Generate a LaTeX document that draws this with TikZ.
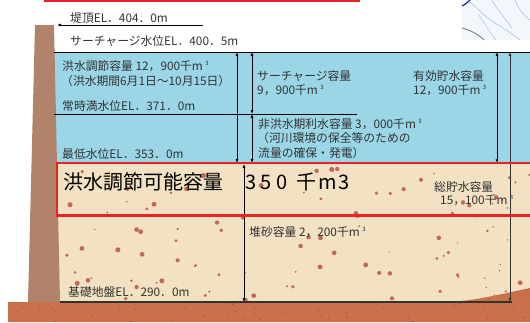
\documentclass[tikz,border=0pt]{standalone}
\usepackage{fontspec}
\setmainfont{Noto Sans CJK JP}
\usetikzlibrary{arrows.meta}
\definecolor{water}{HTML}{9AD6E6}
\definecolor{sand}{HTML}{F2E1C2}
\definecolor{wall}{HTML}{B0836A}
\definecolor{ground}{HTML}{C8714A}
\definecolor{pebble}{HTML}{C4665A}
\definecolor{grit}{HTML}{B24A36}
\definecolor{hilite}{HTML}{E82226}
\definecolor{ink}{HTML}{333333}
\definecolor{mapbg}{HTML}{F3F7FB}
\definecolor{mapline}{HTML}{A9C4E2}
\tikzset{
  lbl/.style={anchor=west, inner sep=0pt, text=ink, font=\fontsize{11.8}{13}\selectfont},
  biglbl/.style={anchor=west, inner sep=0pt, text=black, font=\fontsize{20}{22}\selectfont},
  dim/.style={draw=black, line width=0.7pt, {Latex[length=4pt,width=3pt]}-{Latex[length=4pt,width=3pt]}},
  lvl/.style={draw=black, line width=0.8pt},
  frame/.style={draw=hilite, line width=2.6pt}
}
\newcommand{\cubic}{\hspace{2.5pt}\raisebox{0.8ex}{\fontsize{6}{6}\selectfont 3}}
\begin{document}
\begin{tikzpicture}[x=1pt,y=-1pt]
\useasboundingbox (0,0) rectangle (530,322);
\fill[white] (0,0) rectangle (530,322);

% map fragment in the top-right corner
\fill[mapbg] (462,0) rectangle (530,40);
\draw[mapline, line width=0.6pt] (470,2) .. controls (480,10) and (485,18) .. (500,26) .. controls (506,30) and (512,34) .. (520,40);
\draw[mapline, line width=0.6pt] (492,0) .. controls (496,8) and (500,12) .. (506,20) -- (512,28);
\draw[mapline, line width=0.6pt] (515,0) .. controls (518,8) and (522,14) .. (530,20);
\draw[mapline, line width=0.5pt] (478,14) .. controls (484,22) and (488,30) .. (496,40);
\draw[blue!70!black, line width=1pt] (462,6) .. controls (466,4) and (468,2) .. (470,0);
\draw[gray, line width=0.9pt] (462,28) .. controls (470,30) and (478,34) .. (484,40);

% red frame edge at the top
\draw[hilite, line width=2pt] (44,0.5) -- (360,0.5);

% reservoir water
\fill[water] (54,52) rectangle (530,163);
% sediment layer
\fill[sand] (55,163) -- (530,163) -- (530,288) .. controls (510,292) and (480,300) .. (450,302) -- (60,302) -- cycle;
\begin{scope}
  \clip (55,163) -- (530,163) -- (530,288) .. controls (510,292) and (480,300) .. (450,302) -- (60,302) -- cycle;
  \pgfmathsetseed{17}
  \foreach \i in {1,...,100}{
    \pgfmathsetmacro\px{58+472*rnd}
    \pgfmathsetmacro\py{166+134*rnd}
    \pgfmathsetmacro\pr{0.7+1.9*rnd}
    \fill[pebble] (\px,\py) circle[radius=\pr pt];
  }
\end{scope}
% foundation ground
\fill[ground] (8,302) -- (450,302) .. controls (480,300) and (510,292) .. (530,288) -- (530,322) -- (8,322) -- cycle;
\begin{scope}
  \clip (8,302) -- (450,302) .. controls (480,300) and (510,292) .. (530,288) -- (530,322) -- (8,322) -- cycle;
  \pgfmathsetseed{5}
  \foreach \i in {1,...,70}{
    \pgfmathsetmacro\px{10+520*rnd}
    \pgfmathsetmacro\py{290+32*rnd}
    \fill[grit] (\px,\py) circle[radius=0.7pt];
  }
\end{scope}
% dam body
\fill[wall] (35,25) -- (54,25) -- (60,302) -- (28,302) -- cycle;

% water levels and foundation line
\coordinate (swl-l) at (54,52);   \coordinate (swl-r) at (530,52);
\coordinate (nwl-l) at (54,114);  \coordinate (nwl-r) at (357,114);
\coordinate (base-l) at (60,302); \coordinate (base-r) at (512,302);
\draw[lvl] (swl-l) -- (swl-r);
\draw[lvl] (nwl-l) -- (nwl-r);
\draw[draw=ink, line width=1.1pt] (base-l) -- (base-r);

% crest arrow
\coordinate (crest-a) at (203,25); \coordinate (crest-b) at (57,25);
\draw[black, line width=0.7pt, -{Latex[length=4pt,width=3pt]}] (crest-a) -- (crest-b);

% dimension arrows
\coordinate (a1t) at (237,52);  \coordinate (a1b) at (237,163);
\coordinate (a2t) at (252,52);  \coordinate (a2m) at (252,114); \coordinate (a2b) at (252,163);
\coordinate (a3t) at (497,52);  \coordinate (a3b) at (497,163);
\coordinate (a4t) at (510,52);  \coordinate (a4b) at (510,302);
\coordinate (a5t) at (244,164); \coordinate (a5b) at (244,302);
\draw[dim] (a1t) -- (a1b);
\draw[dim] (a2t) -- (a2m);
\draw[dim] (a2m) -- (a2b);
\draw[dim] (a3t) -- (a3b);
\draw[dim, draw=ink] (a4t) -- (a4b);
\draw[dim] (a5t) -- (a5b);

% highlighted flood-control band
\draw[frame] (57,163) rectangle (540,215.5);

% labels
\node[lbl] (crest) at (70,18) {堤頂EL．404．0m};
\node[lbl] (surwl) at (70,41) {サーチャージ水位EL．400．5m};
\node[lbl] (fc) at (62,66) {洪水調節容量 12，900千m\cubic};
\node[lbl] (fcp) at (61,81) {（洪水期間6月1日～10月15日）};
\node[lbl] (nwl) at (62,106) {常時満水位EL．371．0m};
\node[lbl] (lwl) at (62,154) {最低水位EL．353．0m};
\node[lbl] (sc) at (257,76) {サーチャージ容量};
\node[lbl] (scv) at (257,90) {9，900千m\cubic};
\node[lbl] (ec) at (413,76) {有効貯水容量};
\node[lbl] (ecv) at (413,90) {12，900千m\cubic};
\node[lbl] (wu) at (258,124) {非洪水期利水容量 3，000千m\cubic};
\node[lbl] (wu2) at (257,138) {（河川環境の保全等のための};
\node[lbl] (wu3) at (258,153) {流量の確保・発電）};
\node[biglbl] (big) at (63,182) {洪水調節可能容量\hspace{22pt}3\hspace{4.5pt}5\hspace{4.5pt}0\hspace{9pt}千\hspace{2pt}m\hspace{1pt}3};
\node[lbl] (tc) at (434,187) {総貯水容量};
\node[lbl] (tcv) at (440,200) {15，100千m\cubic};
\node[lbl] (sed) at (249,232) {堆砂容量 2，200千m\cubic};
\node[lbl] (base) at (68,292) {基礎地盤EL．290．0m};
\end{tikzpicture}
\end{document}
